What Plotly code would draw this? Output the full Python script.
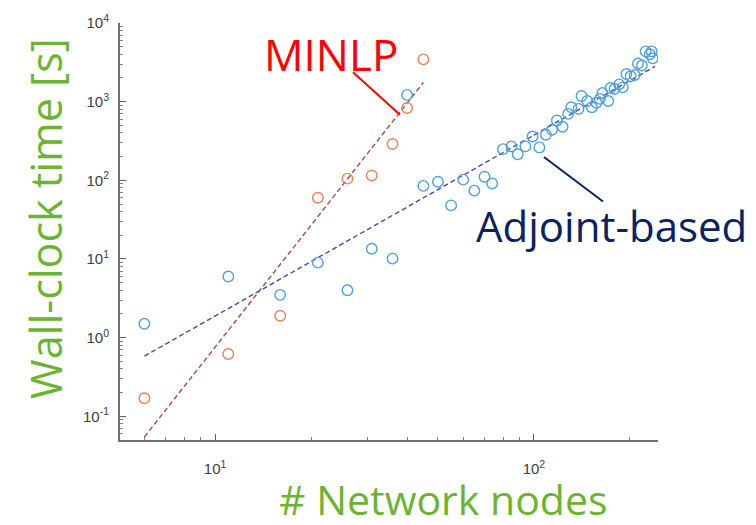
import numpy as np
import plotly.graph_objects as go

# ---------------- data ----------------
minlp_nodes = [6, 11, 16, 21, 26, 31, 36, 40, 45]
minlp_time = [0.17, 0.62, 1.9, 60, 105, 115, 290, 830, 3450]

adj_nodes = [6, 11, 16, 21, 26, 31, 36, 40, 45, 50, 55, 60, 65, 70, 74,
             80, 85, 89, 94, 99, 104, 109, 114, 118, 123, 128, 131, 138,
             141, 147, 152, 157, 161, 164, 171, 174, 179, 185, 190, 195,
             201, 207, 212, 218, 224, 231, 236, 234]
adj_time = [1.5, 6.0, 3.5, 9.0, 4.0, 13.5, 10.1, 1220, 85, 96, 48, 102, 74,
            111, 91, 249, 270, 215, 270, 360, 262, 380, 440, 575, 480, 700,
            850, 810, 1180, 1020, 850, 970, 1085, 1290, 1020, 1490, 1450,
            1660, 1520, 2250, 2100, 2180, 3060, 2880, 4360, 4000, 3550, 4360]

# log-log fit lines: [slope, intercept] in log10 space
minlp_fit = [5.15, -5.27]
adj_fit = [2.30, -2.025]
adj_fit_xmax = 240

x_tickvals = [10, 100]
x_ticktext = ["10<sup>1</sup>", "10<sup>2</sup>"]
y_tickvals = [0.1, 1, 10, 100, 1000, 10000]
y_ticktext = ["10<sup>-1</sup>", "10<sup>0</sup>", "10<sup>1</sup>",
              "10<sup>2</sup>", "10<sup>3</sup>", "10<sup>4</sup>"]

GREEN = "rgb(108,180,48)"
BLUE_M = "rgb(78,160,218)"
ORANGE_M = "rgb(236,128,84)"

def fit_line(coef, x0, x1):
    xs = np.logspace(np.log10(x0), np.log10(x1), 60)
    ys = 10 ** (coef[0] * np.log10(xs) + coef[1])
    return xs, ys

fig = go.Figure()

mx, my = fit_line(minlp_fit, min(minlp_nodes), max(minlp_nodes))
fig.add_trace(go.Scatter(x=mx, y=my, mode="lines",
                         line=dict(color="rgb(170,72,72)", width=1.4, dash="5px,3px"),
                         showlegend=False, hoverinfo="skip"))
ax_, ay_ = fit_line(adj_fit, min(adj_nodes), adj_fit_xmax)
fig.add_trace(go.Scatter(x=ax_, y=ay_, mode="lines",
                         line=dict(color="rgb(72,72,170)", width=1.4, dash="5px,3px"),
                         showlegend=False, hoverinfo="skip"))

fig.add_trace(go.Scatter(x=adj_nodes, y=adj_time, mode="markers",
                         marker=dict(symbol="circle-open", size=10.5,
                                     color=BLUE_M, line=dict(width=1.4, color=BLUE_M)),
                         showlegend=False))
fig.add_trace(go.Scatter(x=minlp_nodes, y=minlp_time, mode="markers",
                         marker=dict(symbol="circle-open", size=10.5,
                                     color=ORANGE_M, line=dict(width=1.4, color=ORANGE_M)),
                         showlegend=False))

def minors(lo, hi):
    out = []
    for e in range(lo, hi):
        for d in range(2, 10):
            out.append(d * 10 ** e)
    return out

axis_common = dict(
    type="log", showgrid=False, zeroline=False, showline=True,
    linecolor="#707070", linewidth=2, ticks="inside", ticklen=6,
    tickcolor="#606060", tickwidth=1, mirror=False,
    tickfont=dict(family="Liberation Sans, Arial", size=15, color="#404040"),
)

fig.update_layout(
    width=756, height=525,
    margin=dict(l=120, r=98, t=17, b=85),
    paper_bgcolor="white", plot_bgcolor="white",
    xaxis=dict(**axis_common, range=[np.log10(5.03), np.log10(245)],
               tickmode="array", tickvals=x_tickvals, ticktext=x_ticktext,
               ticklabelstandoff=14,
               minor=dict(tickmode="array", tickvals=minors(0, 3), ticks="inside",
                          ticklen=3, tickcolor="#808080", showgrid=False)),
    yaxis=dict(**axis_common, range=[np.log10(0.05), 4],
               tickmode="array", tickvals=y_tickvals, ticktext=y_ticktext,
               ticklabelstandoff=6,
               minor=dict(tickmode="array", tickvals=minors(-2, 4), ticks="inside",
                          ticklen=3, tickcolor="#808080", showgrid=False)),
)

FONT = "Open Sans"
fig.add_annotation(xref="paper", yref="paper", x=-0.1375, y=0.53,
                   text="Wall-clock time [s]", textangle=-90, showarrow=False,
                   font=dict(family=FONT, size=43, color=GREEN),
                   xanchor="center", yanchor="middle")
fig.add_annotation(xref="paper", yref="paper", x=0.60, y=-0.142,
                   text="# Network nodes", showarrow=False,
                   font=dict(family=FONT, size=41, color=GREEN),
                   xanchor="center", yanchor="middle")
fig.add_annotation(xref="paper", yref="paper", x=0.392, y=0.925,
                   text="MINLP", showarrow=False,
                   font=dict(family=FONT, size=44, color="rgb(255,0,0)"),
                   xanchor="center", yanchor="middle")
fig.add_annotation(xref="paper", yref="paper", x=0.914, y=0.515,
                   text="Adjoint-based", showarrow=False,
                   font=dict(family=FONT, size=42, color="rgb(10,34,96)"),
                   xanchor="center", yanchor="middle")

fig.add_shape(type="line", xref="paper", yref="paper",
              x0=0.4331, y0=0.8818, x1=0.5204, y1=0.7801,
              line=dict(color="rgb(255,0,0)", width=2))
fig.add_shape(type="line", xref="paper", yref="paper",
              x0=0.788, y0=0.6785, x1=0.8978, y1=0.5721,
              line=dict(color="rgb(10,34,96)", width=2))

fig.write_html("out.html")
